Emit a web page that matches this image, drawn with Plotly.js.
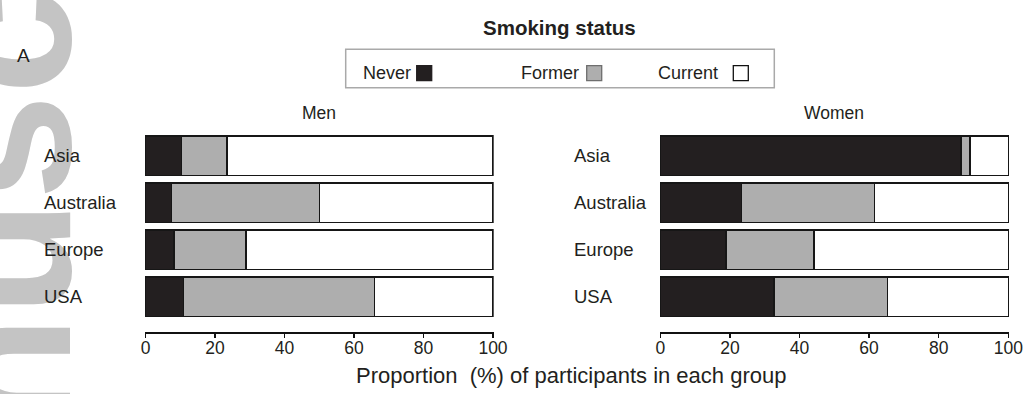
<!DOCTYPE html>
<html>
<head>
<meta charset="utf-8">
<script src="https://cdn.plot.ly/plotly-3.0.1.min.js"></script>
<style>
  html, body { margin: 0; padding: 0; background: #fff; }
  #chart { width: 1032px; height: 394px; }
</style>
</head>
<body>
<div id="chart"></div>
<script>
// Smoking status by region, men and women (% of participants)
const regions = ['Asia', 'Australia', 'Europe', 'USA'];
const statuses = ['Never', 'Former', 'Current'];

const menNever = [10.4, 7.5, 8.2, 10.9];
const menFormer = [13.1, 42.5, 20.7, 55.0];
const menCurrent = [76.5, 50.0, 71.1, 34.1];

const womenNever = [86.4, 23.4, 18.9, 32.7];
const womenFormer = [2.6, 38.2, 25.2, 32.6];
const womenCurrent = [11.0, 38.4, 55.9, 34.7];

const xTicks = [0, 20, 40, 60, 80, 100];

const W = 1032, H = 394;
const px = v => v / W;
const py = v => 1 - v / H;

const FONT = 'Liberation Sans, Arial, Helvetica, sans-serif';
const INK = '#231f20';
const fills = { Never: '#231f20', Former: '#aeaeae', Current: '#ffffff' };
const outline = { color: '#161616', width: 1.5 };

function stackTraces(vals, xa, ya) {
  return statuses.map((s, i) => ({
    type: 'bar',
    orientation: 'h',
    name: s,
    y: regions,
    x: vals[i],
    xaxis: xa,
    yaxis: ya,
    width: 0.84,
    marker: { color: fills[s], line: outline },
    showlegend: false,
    hoverinfo: 'skip'
  }));
}

const data = [
  ...stackTraces([menNever, menFormer, menCurrent], 'x', 'y'),
  ...stackTraces([womenNever, womenFormer, womenCurrent], 'x2', 'y2')
];

const yDomain = [py(332.3), py(132)];

function xAxis(domain, anchor) {
  return {
    domain: domain,
    anchor: anchor,
    range: [-0.2, 100.2],
    tickvals: xTicks,
    ticktext: xTicks.map(String),
    showgrid: false,
    zeroline: false,
    showline: true,
    linecolor: '#111',
    linewidth: 1.5,
    ticks: 'outside',
    ticklen: 4,
    tickwidth: 1.5,
    tickcolor: '#111',
    ticklabelstandoff: -5,
    tickfont: { family: FONT, size: 17.5, color: INK },
    fixedrange: true
  };
}

function yAxis(anchor) {
  return {
    domain: yDomain,
    anchor: anchor,
    type: 'category',
    categoryarray: regions,
    range: [3.76, -0.5],
    showticklabels: false,
    showgrid: false,
    zeroline: false,
    showline: false,
    ticks: '',
    fixedrange: true
  };
}

const annotations = [];

// Faint watermark running up the left margin
annotations.push({
  xref: 'paper', yref: 'paper',
  x: px(112), y: py(190),
  xanchor: 'right', yanchor: 'middle',
  text: '<b>Manuscript</b>',
  textangle: -90,
  showarrow: false,
  font: { family: FONT, size: 190, color: '#c4c4c4' }
});

// Panel letter
annotations.push({
  xref: 'paper', yref: 'paper', x: px(23.5), y: py(55),
  xanchor: 'center', yanchor: 'middle',
  text: 'A', showarrow: false,
  font: { family: FONT, size: 19, color: INK }
});

// Region labels, left aligned
[['x', 'y', 42], ['x2', 'y2', 572]].forEach(([xa, ya, left]) => {
  regions.forEach(r => {
    annotations.push({
      xref: 'paper', yref: ya,
      x: px(left), y: r,
      xanchor: 'left', yanchor: 'middle',
      text: r, showarrow: false,
      font: { family: FONT, size: 18.5, color: INK }
    });
  });
});

// Panel titles
[['x domain', 'Men'], ['x2 domain', 'Women']].forEach(([xr, t]) => {
  annotations.push({
    xref: xr, yref: 'paper', x: 0.5, y: py(113),
    xanchor: 'center', yanchor: 'middle',
    text: t, showarrow: false,
    font: { family: FONT, size: 17.5, color: INK }
  });
});

// Shared axis title
annotations.push({
  xref: 'paper', yref: 'paper', x: px(571), y: py(375),
  xanchor: 'center', yanchor: 'middle',
  text: 'Proportion  (%) of participants in each group',
  showarrow: false,
  font: { family: FONT, size: 22, color: INK }
});

// Legend heading
annotations.push({
  xref: 'paper', yref: 'paper', x: px(559), y: py(27),
  xanchor: 'center', yanchor: 'middle',
  text: '<b>Smoking status</b>', showarrow: false,
  font: { family: FONT, size: 20.5, color: INK }
});

// Legend entries: label followed by a swatch
const legendItems = [
  { s: 'Never', textLeft: 360.7, box: 416.7, border: '#231f20' },
  { s: 'Former', textLeft: 519, box: 586.7, border: '#6e6e6e' },
  { s: 'Current', textLeft: 656, box: 733.3, border: '#111' }
];
const shapes = [];
shapes.push({
  type: 'rect', xref: 'paper', yref: 'paper',
  x0: px(345.7), x1: px(774.3), y0: py(49.3), y1: py(87.7),
  line: { color: '#a9a9a9', width: 1.5 }, fillcolor: 'rgba(0,0,0,0)'
});
legendItems.forEach(it => {
  annotations.push({
    xref: 'paper', yref: 'paper', x: px(it.textLeft), y: py(72.7),
    xanchor: 'left', yanchor: 'middle',
    text: it.s, showarrow: false,
    font: { family: FONT, size: 18, color: INK }
  });
  shapes.push({
    type: 'rect', xref: 'paper', yref: 'paper',
    x0: px(it.box), x1: px(it.box + 15), y0: py(80.7), y1: py(65.7),
    fillcolor: fills[it.s], line: { color: it.border, width: 1.3 }
  });
});

const layout = {
  width: W, height: H,
  margin: { l: 0, r: 0, t: 0, b: 0, pad: 0 },
  paper_bgcolor: '#fff',
  plot_bgcolor: 'rgba(0,0,0,0)',
  barmode: 'stack',
  showlegend: false,
  xaxis: xAxis([px(144.8), px(493.7)], 'y'),
  yaxis: yAxis('x'),
  xaxis2: xAxis([px(659.6), px(1009)], 'y2'),
  yaxis2: yAxis('x2'),
  annotations: annotations,
  shapes: shapes,
  font: { family: FONT, color: INK }
};

Plotly.newPlot('chart', data, layout, { displayModeBar: false, staticPlot: true });
</script>
</body>
</html>
